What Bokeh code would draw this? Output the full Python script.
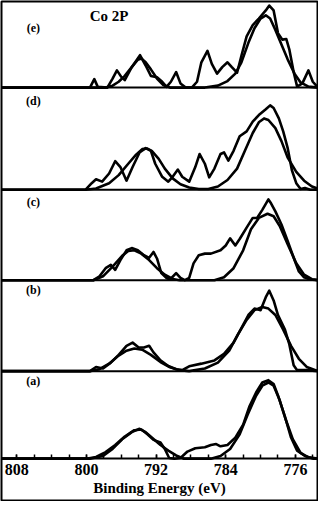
from bokeh.plotting import figure
from bokeh.models import Range1d, FixedTicker, Span, Label
from bokeh.embed import file_html
from bokeh.resources import INLINE

# ---------------- data (binding energy in eV, intensity in a.u.) ----------------
tick_values = [808, 800, 792, 784, 776]
minor_tick_values = list(range(774, 811, 2))
panel_labels = ["(a)", "(b)", "(c)", "(d)", "(e)"]
title_text = "Co 2P"
x_label = "Binding Energy (eV)"

# panel (a)
be_raw_a = [809.9, 800.0, 798.9, 797.8, 796.7, 795.6, 794.5, 793.7, 793.0, 792.3, 791.5, 791.0,
            790.5, 789.9, 789.2, 788.4, 787.5, 786.4, 785.7, 785.1, 784.6, 783.8, 782.9, 782.0,
            781.3, 780.5, 779.8, 779.1, 778.5, 778.0, 777.2, 776.5, 775.8, 774.9, 773.9, 773.4]
int_raw_a = [0, 0, 1.7, 6.7, 14, 22.7, 29.3, 30, 25, 19.3, 16.7, 10,
             0.7, 0, 0.7, 7.3, 10.7, 11.7, 14, 15, 12.7, 14, 21.7, 35,
             53.3, 68.3, 78.3, 80.7, 76.7, 65, 43.3, 21.7, 8.3, 2.7, 0, 0]
be_fit_a = [809.9, 799.6, 798.1, 797.0, 795.9, 794.8, 793.9, 793.2, 792.5, 791.5, 790.6, 789.7,
            788.8, 785.7, 784.6, 783.5, 782.4, 781.5, 780.5, 779.8, 779.1, 778.5, 777.8, 777.1,
            776.3, 775.4, 774.5, 773.4]
int_fit_a = [0, 0, 2.7, 10, 20, 27.3, 30.7, 27.3, 21.7, 14, 8.3, 3.3,
             0, 0, 2.7, 10, 25, 45, 65, 75, 78.3, 75, 60, 40,
             20, 6, 1.3, 0]

# panel (b)
be_raw_b = [809.9, 799.6, 798.9, 798.1, 797.2, 796.3, 795.4, 794.7, 794.0, 793.4, 792.8, 792.3,
            791.5, 790.6, 789.7, 789.0, 788.2, 786.8, 785.3, 784.2, 783.1, 782.2, 781.4, 780.7,
            780.0, 779.4, 779.0, 778.5, 778.0, 777.2, 776.7, 776.2, 775.8, 774.7, 773.4]
int_raw_b = [0, 0, 4.3, 2.7, 8.7, 16.7, 26, 29.3, 24.3, 24.3, 26, 19.3,
             11, 5.3, 2, 1, 5, 7.7, 11, 17.7, 29.3, 44.3, 57.7, 64.3,
             62.7, 76, 82.7, 72.7, 57.7, 42.7, 27.7, 6, 1, 1, 0]
be_fit_b = [809.9, 799.6, 798.5, 797.4, 796.3, 795.4, 794.5, 793.6, 792.6, 791.5, 790.4, 789.3,
            788.2, 786.4, 784.9, 783.6, 782.6, 781.6, 780.7, 779.8, 779.1, 778.3, 777.4, 776.5,
            775.6, 774.7, 773.4]
int_fit_b = [0, 0, 2, 7.7, 16, 21, 23.3, 22, 16.7, 9.3, 4, 1,
             0, 2.7, 8.7, 21, 37.7, 52.7, 62.7, 66, 64.3, 57.7, 42.7, 26,
             12.7, 4.3, 0]

# panel (c)
be_raw_c = [809.9, 799.2, 798.5, 797.8, 797.2, 796.7, 796.1, 795.4, 794.8, 794.1, 793.4, 792.8,
            792.3, 791.9, 791.4, 790.8, 790.4, 789.7, 789.2, 788.7, 788.2, 787.7, 787.1, 786.4,
            785.7, 784.6, 784.0, 783.5, 782.9, 782.4, 781.6, 780.9, 780.4, 779.8, 779.1, 778.8,
            778.3, 777.6, 776.9, 776.1, 775.6, 775.0, 774.3, 773.4]
int_raw_c = [0, 0, 4, 12.3, 15.7, 10.7, 20.7, 30.7, 33, 30.7, 25.7, 23,
             29, 22.3, 7.3, 2.3, 0.7, 7.3, 2.3, 0, 2.3, 17.3, 25.7, 27.3,
             27.3, 30.7, 35.7, 43, 35.7, 42.3, 54, 64, 64, 72.3, 83, 79,
             70.7, 57.3, 40.7, 20.7, 9, 3, 0.7, 0]
be_fit_c = [809.9, 799.2, 798.1, 797.0, 795.9, 795.2, 794.5, 793.7, 792.8, 791.9, 791.0, 790.1,
            789.3, 785.3, 784.2, 783.1, 782.0, 781.1, 780.2, 779.2, 778.5, 777.8, 776.9, 775.9,
            775.0, 774.1, 773.4]
int_fit_c = [0, 0, 4, 14, 25, 30, 30.7, 27.3, 20.7, 12.3, 5.7, 1.3,
             0, 0, 3, 12.3, 30.7, 52.3, 64, 68.3, 65.7, 55.7, 37.3, 17.3,
             5.7, 1, 0]

# panel (d)
be_raw_d = [809.9, 800.1, 799.4, 798.9, 798.2, 797.4, 796.7, 796.1, 795.4, 794.7, 793.9, 793.2,
            792.6, 792.1, 791.3, 790.6, 790.1, 789.5, 789.0, 788.2, 787.5, 787.0, 786.4, 785.9,
            785.3, 784.6, 784.2, 783.7, 783.1, 782.4, 781.6, 780.9, 780.2, 779.4, 778.9, 778.5,
            777.9, 777.4, 776.9, 776.4, 775.9, 775.4, 774.9, 774.3, 773.4]
int_raw_d = [0, 0, 6.7, 10.7, 8.3, 16.7, 29.3, 23.3, 9.3, 23.3, 38.3, 42.7,
             40, 26.7, 13.3, 8.3, 13.3, 20.7, 13.3, 8.3, 23.3, 36.7, 26.7, 12.7,
             21.7, 36.7, 38.3, 30, 40, 55, 60, 70, 76.7, 82.7, 86.7, 84,
             73.3, 60, 43.3, 20, 6.7, 0.7, 1.7, 0, 0]
be_fit_d = [809.9, 800.1, 798.9, 797.4, 796.3, 795.2, 794.3, 793.6, 793.0, 792.5, 791.7, 791.0,
            790.1, 789.2, 788.2, 787.1, 786.0, 784.9, 783.8, 782.7, 781.8, 780.9, 780.2, 779.6,
            779.1, 778.3, 777.6, 776.9, 775.9, 775.0, 774.1, 773.4]
int_fit_d = [0, 0, 1.3, 6.7, 15, 26.7, 36, 41.7, 42.3, 40, 31.7, 21.7,
             11.7, 5.7, 2.3, 0.7, 0.7, 3.3, 10, 21.7, 40, 58.3, 69.3, 73.3,
             71.7, 63.3, 50, 33.3, 18.3, 9.3, 3.3, 1]

# panel (e)
be_raw_e = [809.9, 799.6, 799.1, 798.7, 797.6, 797.0, 796.5, 796.0, 795.6, 794.8, 793.85, 793.2,
            792.6, 791.9, 791.3, 790.8, 790.3, 789.7, 789.2, 788.6, 787.9, 787.3, 786.8, 786.1,
            785.6, 785.0, 784.4, 783.8, 783.3, 782.7, 782.2, 781.6, 780.9, 780.2, 779.4, 779.0,
            778.5, 778.0, 777.5, 777.05, 776.7, 776.2, 775.8, 775.2, 774.5, 774.0, 773.4]
int_raw_e = [0, 0, 8.7, 0.7, 0, 9.3, 17.7, 11, 7.7, 21, 33.3, 22.7,
             12, 10.7, 6, 0.7, 6, 16, 4.3, 0, 0, 6, 26, 37.7,
             24.3, 14.3, 21, 26, 21, 15.3, 32.7, 52.7, 64.3, 71, 79.3, 84.3,
             79.3, 56, 49.3, 50, 39.3, 16, 1, 4.3, 17.7, 6, 0]
be_fit_e = [809.9, 797.8, 797.0, 796.3, 795.6, 794.8, 794.1, 793.7, 793.2, 792.6, 791.9, 791.2,
            790.4, 786.4, 784.9, 783.8, 782.9, 782.2, 781.4, 780.7, 780.0, 779.4, 778.9, 778.3,
            777.6, 776.9, 776.1, 775.4, 774.5, 773.4]
int_fit_e = [0, 0, 2, 6, 12, 21, 28.7, 30, 26, 18.7, 9.3, 2.7,
             0, 0, 2, 6.7, 14.3, 26, 46, 61, 71, 74.3, 71, 59.3,
             44.3, 29.3, 14.3, 5.3, 1, 0]

panels = [
    (be_raw_a, int_raw_a, be_fit_a, int_fit_a),
    (be_raw_b, int_raw_b, be_fit_b, int_fit_b),
    (be_raw_c, int_raw_c, be_fit_c, int_fit_c),
    (be_raw_d, int_raw_d, be_fit_d, int_fit_d),
    (be_raw_e, int_raw_e, be_fit_e, int_fit_e),
]

# ---------------- layout (stack offsets, not data) ----------------
panel_bases = [0, 90, 183.5, 276.5, 381.5]
FONT = "Liberation Serif"

p = figure(width=318, height=501,
           x_range=Range1d(809.76, 773.46), y_range=Range1d(-43, 470),
           output_backend="svg", toolbar_location=None,
           y_axis_location=None, min_border=1)
p.xgrid.visible = False
p.ygrid.visible = False
p.outline_line_color = "black"
p.outline_line_width = 2
p.background_fill_color = "white"
p.border_fill_color = "white"

xa = p.xaxis[0]
xa.fixed_location = 0
xa.ticker = FixedTicker(ticks=tick_values, minor_ticks=minor_tick_values)
xa.major_tick_in = 4
xa.major_tick_out = 0
xa.minor_tick_in = 4
xa.minor_tick_out = 0
xa.major_tick_line_width = 1.5
xa.minor_tick_line_width = 1.5
xa.axis_line_width = 2
xa.axis_line_color = "black"
xa.major_label_text_font = FONT
xa.major_label_text_font_style = "bold"
xa.major_label_text_font_size = "16px"
xa.major_label_text_color = "black"
xa.major_label_standoff = 5
xa.axis_label = x_label
xa.axis_label_text_font = FONT
xa.axis_label_text_font_style = "bold"
xa.axis_label_text_font_size = "15px"
xa.axis_label_text_color = "black"
xa.axis_label_standoff = 2

for base in panel_bases[1:]:
    p.add_layout(Span(location=base, dimension="width", line_color="black", line_width=2))

for (bx, by, fx, fy), base in zip(panels, panel_bases):
    p.line(fx, [v + base for v in fy], line_color="black", line_width=2.6, line_join="round")
    p.line(bx, [v + base for v in by], line_color="black", line_width=2.6, line_join="round")

label_offsets = [80, 83, 80.5, 91.5, 61.5]
for name, base, off in zip(panel_labels, panel_bases, label_offsets):
    p.add_layout(Label(x=806.1, y=base + off, text=name, text_font=FONT,
                       text_font_style="bold", text_font_size="12px",
                       text_align="center", text_baseline="middle", text_color="black"))

p.add_layout(Label(x=797.4, y=455, text=title_text, text_font=FONT,
                   text_font_style="bold", text_font_size="15px",
                   text_align="center", text_baseline="middle", text_color="black"))

open("out.html", "w").write(file_html(p, INLINE))
